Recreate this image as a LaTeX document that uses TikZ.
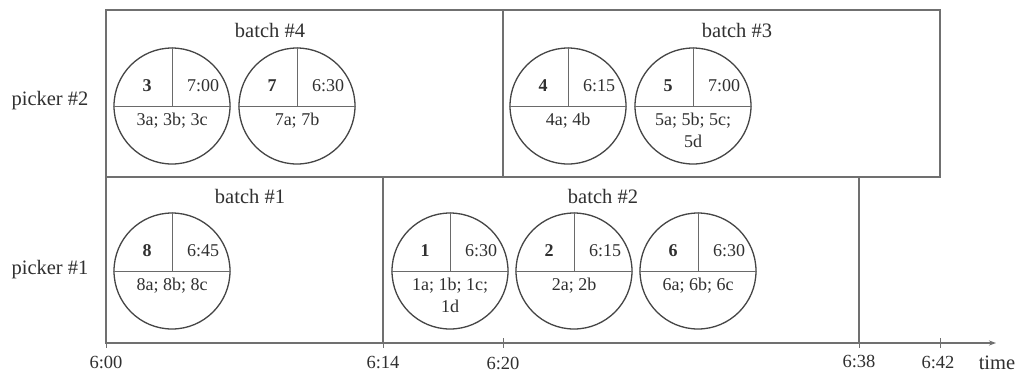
\documentclass[tikz,border=0pt]{standalone}
\usepackage{fontspec}
\setmainfont{Liberation Serif}
\usetikzlibrary{arrows.meta,calc}
\definecolor{boxline}{HTML}{707070}
\definecolor{circline}{HTML}{454545}
\definecolor{divline}{HTML}{6A6A6A}
\definecolor{txt}{HTML}{303030}
\newcommand{\ordcirc}[5]{%
  \node[ordc] (#1) at (#2) {};
  \draw[divl] (#1.north) -- (#1.center);
  \draw[divl] (#1.west) -- (#1.east);
  \node[ctext] (#1n) at ($(#1.center)+(-25,-20)$) {\textbf{#3}};
  \node[ctext] (#1t) at ($(#1.center)+(31,-20)$) {#4};
  \node[ctext, anchor=north, align=center] (#1i) at ($(#1.center)+(0,7)$) {#5};
}
\begin{document}
\begin{tikzpicture}[x=1pt,y=-1pt,
  batchbox/.style={draw=boxline, line width=1.4pt, inner sep=0pt},
  ordc/.style={circle, draw=circline, line width=1.3pt, minimum size=116pt, inner sep=0pt},
  divl/.style={draw=divline, line width=0.9pt},
  ctext/.style={text=txt, font=\fontsize{18}{22}\selectfont, inner sep=0pt},
  lbl/.style={text=txt, font=\fontsize{20.5}{24}\selectfont, inner sep=0pt},
  tlbl/.style={text=txt, font=\fontsize{18.5}{22}\selectfont, inner sep=0pt},
  axisl/.style={draw=boxline, line width=1.4pt},
  tick/.style={draw=boxline, line width=1pt}]
\useasboundingbox (0,0) rectangle (1021,376);
\fill[white] (0,0) rectangle (1021,376);

% batch boxes
\node[batchbox, minimum width=397pt, minimum height=167pt] (b4) at (304.5,93.5) {};
\node[batchbox, minimum width=437pt, minimum height=167pt] (b3) at (721.5,93.5) {};
\node[batchbox, minimum width=277pt, minimum height=166pt] (b1) at (244.5,260) {};
\node[batchbox, minimum width=476pt, minimum height=166pt] (b2) at (621,260) {};

% batch labels
\node[lbl] (l4) at (270,30) {batch \#4};
\node[lbl] (l3) at (737,30) {batch \#3};
\node[lbl] (l1) at (250,196) {batch \#1};
\node[lbl] (l2) at (603,196) {batch \#2};

% picker labels
\node[lbl] (p2) at (50,101) {picker \#2};
\node[lbl] (p1) at (50,270) {picker \#1};

% orders
\ordcirc{o3}{172,106}{3}{7:00}{3a; 3b; 3c}
\ordcirc{o7}{297,106}{7}{6:30}{7a; 7b}
\ordcirc{o4}{568,106}{4}{6:15}{4a; 4b}
\ordcirc{o5}{693,106}{5}{7:00}{5a; 5b; 5c;\\5d}
\ordcirc{o8}{172,271}{8}{6:45}{8a; 8b; 8c}
\ordcirc{o1}{450,271}{1}{6:30}{1a; 1b; 1c;\\1d}
\ordcirc{o2}{574,271}{2}{6:15}{2a; 2b}
\ordcirc{o6}{698,271}{6}{6:30}{6a; 6b; 6c}

% time axis
\coordinate (t00) at (106,343);
\coordinate (t14) at (383,343);
\coordinate (t20) at (503,343);
\coordinate (t38) at (859,343);
\coordinate (t42) at (940,343);
\coordinate (tend) at (996,343);
\draw[axisl, -{Stealth[length=7pt,width=5pt]}] (t00) -- (tend);
\foreach \c in {t00,t14,t38} \draw[tick] (\c) -- ++(0,5);
\foreach \c in {t20,t42} \draw[tick] ($(\c)+(0,-5)$) -- ($(\c)+(0,5)$);

\node[tlbl] (n00) at (106,362) {6:00};
\node[tlbl] (n14) at (383,362) {6:14};
\node[tlbl] (n20) at (503,363) {6:20};
\node[tlbl] (n38) at (859,361) {6:38};
\node[tlbl] (n42) at (938,362) {6:42};
\node[lbl] (ntime) at (997,363) {time};
\end{tikzpicture}
\end{document}
